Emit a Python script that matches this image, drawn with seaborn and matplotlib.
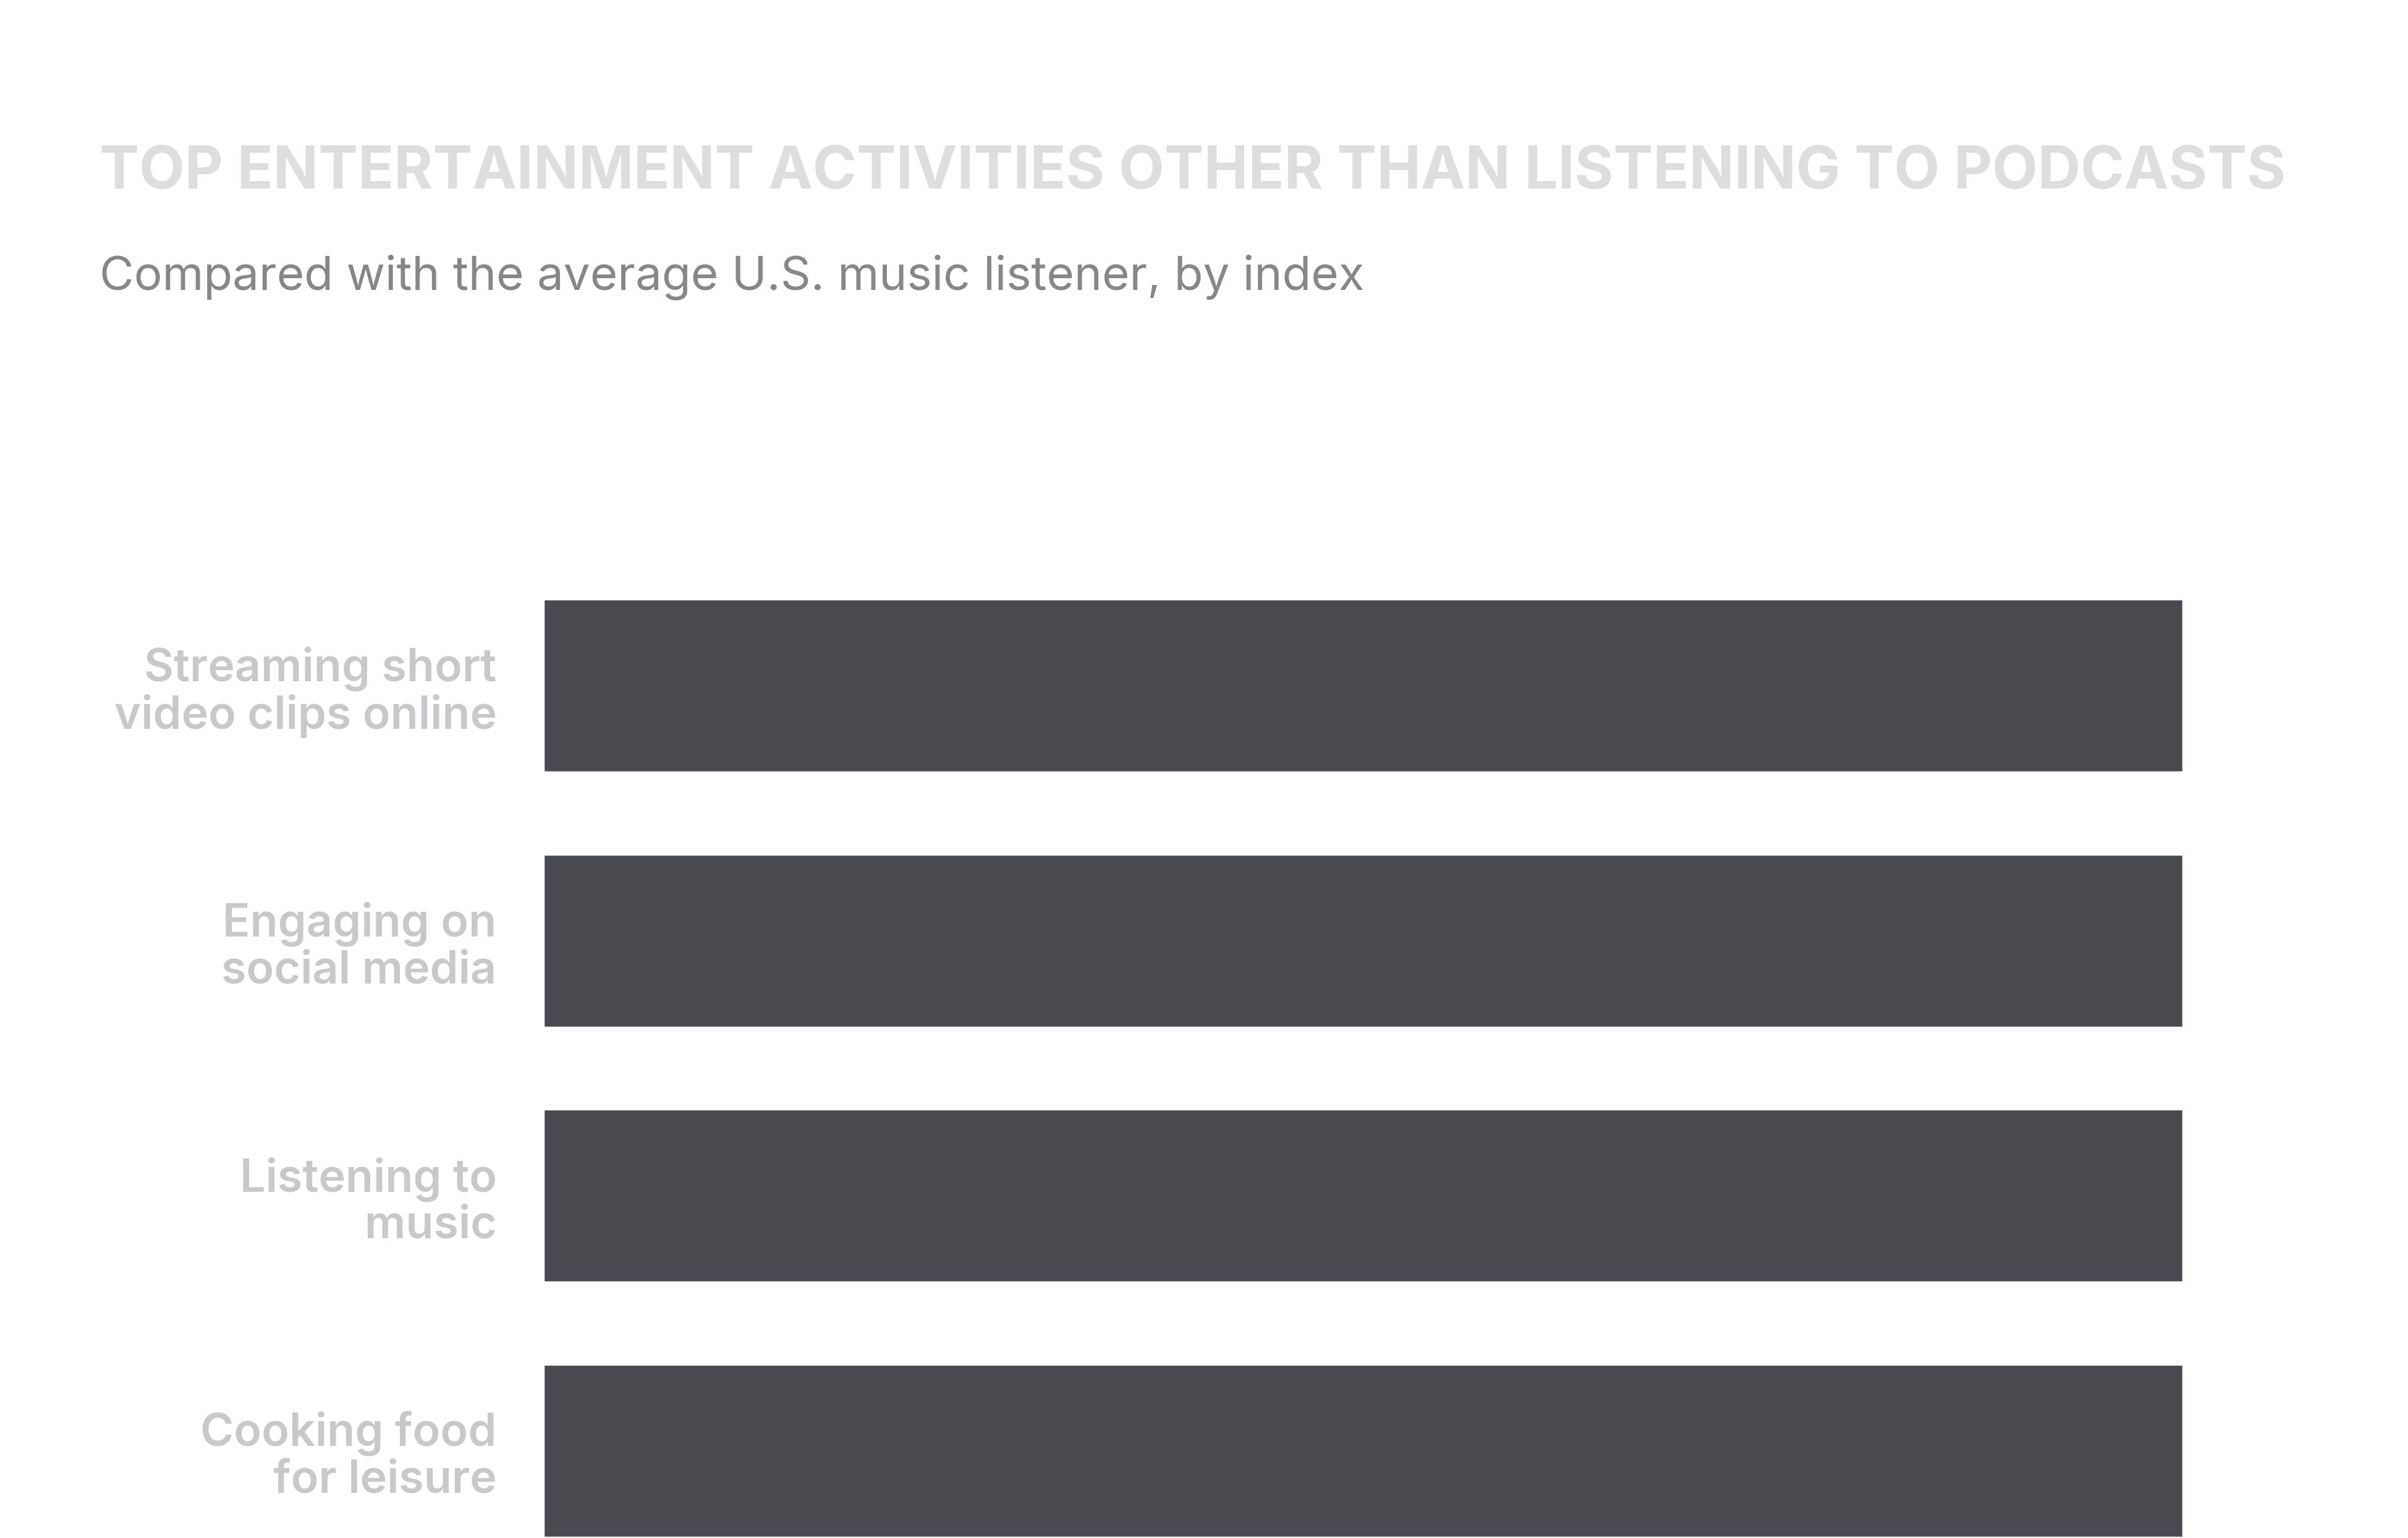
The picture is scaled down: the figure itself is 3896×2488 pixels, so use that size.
import pandas as pd
import matplotlib.pyplot as plt
import seaborn as sns

# chart data
activities = [
    "Streaming short\nvideo clips online",
    "Engaging on\nsocial media",
    "Listening to\nmusic",
    "Cooking food\nfor leisure",
]
index_values = [100, 100, 100, 100]

title = "TOP ENTERTAINMENT ACTIVITIES OTHER THAN LISTENING TO PODCASTS"
subtitle = "Compared with the average U.S. music listener, by index"

df = pd.DataFrame({"activity": activities, "index": index_values})

sns.set_theme(style="white")
plt.rcParams["font.family"] = ["Inter", "DejaVu Sans"]

W, H, DPI = 3896, 2488, 100
fig = plt.figure(figsize=(W / DPI, H / DPI), dpi=DPI)
fig.patch.set_facecolor("white")

# axes placed in pixel terms: bars from x=880 to 3531, rows pitch ~412 px
ax_left, ax_right = 880, 3531
ax_top, ax_bottom = 903, 2553
ax = fig.add_axes([ax_left / W, (H - ax_bottom) / H,
                   (ax_right - ax_left) / W, (ax_bottom - ax_top) / H])

sns.barplot(data=df, x="index", y="activity", orient="h", color="#4a4b50",
            width=0.675, saturation=1, ax=ax)

ax.set_xlim(0, max(index_values))
ax.set_ylim(3.5, -0.5)
ax.set_xlabel("")
ax.set_ylabel("")
ax.set_xticks([])
sns.despine(ax=ax, left=True, bottom=True)
ax.tick_params(axis="y", length=0, pad=55)
for lab in ax.get_yticklabels():
    lab.set_fontsize(53)
    lab.set_color("#c9c9cb")
    lab.set_fontweight("semibold")
    lab.set_linespacing(1.1)

fig.text(161 / W, 1 - 305 / H, title, fontsize=69, fontweight="bold",
         color="#dedede", ha="left", va="baseline")
fig.text(161 / W, 1 - 468 / H, subtitle, fontsize=55, color="#87878a",
         ha="left", va="baseline")

fig.savefig("out.png", dpi=DPI, facecolor="white")
